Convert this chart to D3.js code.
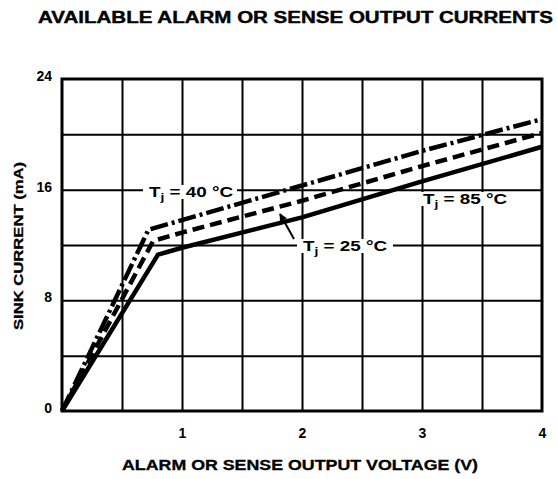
<!DOCTYPE html>
<html>
<head>
<meta charset="utf-8">
<script src="https://cdn.jsdelivr.net/npm/d3@7"></script>
<style>
  body { margin: 0; background: #fff; }
  text { font-family: "Liberation Sans", Arial, sans-serif; font-weight: bold; fill: #000; }
</style>
</head>
<body>
<svg class="chart-svg" width="558" height="479"></svg>
<script>
// voltage (V) and sink current (mA)
const voltage = [0, 0.72, 1, 2, 3, 4];
const current40 = [0, 13.1, 13.8, 16.3, 18.8, 21.1];
const voltage25 = [0, 0.76, 1, 2, 3, 4];
const current25 = [0, 12.3, 12.9, 15.2, 17.7, 20.1];
const voltage85 = [0, 0.8, 1, 2, 3, 4];
const current85 = [0, 11.3, 11.8, 14.0, 16.6, 19.1];

const xTicks = [1, 2, 3, 4];
const yTicks = [0, 8, 16, 24];
const xGrid = [0.5, 1, 1.5, 2, 2.5, 3, 3.5];
const yGrid = [4, 8, 12, 16, 20];

function drawChart() {
    const svg = d3.select(".chart-svg");
    const left = 62, right = 542, top = 79, bottom = 411;

    const x = d3.scaleLinear().domain([0, 4]).range([left, right]);
    const y = d3.scaleLinear().domain([0, 24]).range([bottom, top]);

    // title
    svg.append("text")
        .attr("x", 38).attr("y", 23)
        .attr("font-size", 16)
        .attr("stroke", "#000").attr("stroke-width", 0.4)
        .attr("textLength", 515).attr("lengthAdjust", "spacingAndGlyphs")
        .text("AVAILABLE ALARM OR SENSE OUTPUT CURRENTS");

    // grid
    svg.append("g")
        .attr("transform", `translate(0,${bottom})`)
        .call(d3.axisBottom(x).tickValues(xGrid).tickSize(-(bottom - top)).tickFormat(""))
        .call(g => g.select(".domain").remove())
        .selectAll("line").attr("stroke", "#000").attr("stroke-width", 2);

    svg.append("g")
        .attr("transform", `translate(${left},0)`)
        .call(d3.axisLeft(y).tickValues(yGrid).tickSize(-(right - left)).tickFormat(""))
        .call(g => g.select(".domain").remove())
        .selectAll("line").attr("stroke", "#000").attr("stroke-width", 2);

    // frame
    svg.append("rect")
        .attr("x", left).attr("y", top)
        .attr("width", right - left).attr("height", bottom - top)
        .attr("fill", "none").attr("stroke", "#000").attr("stroke-width", 3);

    // tick labels
    const xAxis = svg.append("g")
        .attr("transform", `translate(0,${bottom})`)
        .call(d3.axisBottom(x).tickValues(xTicks).tickFormat(d3.format("d")).tickSize(0).tickPadding(17));
    xAxis.select(".domain").remove();
    xAxis.selectAll("text").attr("font-size", 14).attr("font-family", null);

    const yAxis = svg.append("g")
        .attr("transform", `translate(${left},0)`)
        .call(d3.axisLeft(y).tickValues(yTicks).tickSize(0).tickPadding(10));
    yAxis.select(".domain").remove();
    yAxis.selectAll("text").attr("font-size", 14).attr("font-family", null).attr("dy", "0.1em");

    // axis titles
    svg.append("text")
        .attr("x", 122).attr("y", 470)
        .attr("font-size", 14)
        .attr("stroke", "#000").attr("stroke-width", 0.3)
        .attr("textLength", 356).attr("lengthAdjust", "spacingAndGlyphs")
        .text("ALARM OR SENSE OUTPUT VOLTAGE (V)");

    svg.append("text")
        .attr("transform", "translate(23,330) rotate(-90)")
        .attr("font-size", 13)
        .attr("stroke", "#000").attr("stroke-width", 0.3)
        .attr("textLength", 168).attr("lengthAdjust", "spacingAndGlyphs")
        .text("SINK CURRENT (mA)");

    // curves
    const line = d3.line().x(d => x(d[0])).y(d => y(d[1]));
    const curves = [
        { v: voltage85, c: current85, dash: null },
        { v: voltage25, c: current25, dash: "12,6" },
        { v: voltage, c: current40, dash: "18,4,3,4" }
    ];
    svg.append("g").selectAll("path")
        .data(curves)
        .enter()
        .append("path")
        .attr("d", d => line(d.v.map((v, i) => [v, d.c[i]])))
        .attr("fill", "none")
        .attr("stroke", "#000")
        .attr("stroke-width", 4.5)
        .attr("stroke-linejoin", "round")
        .attr("stroke-dasharray", d => d.dash);

    // labels on white patches
    const labels = [
        { t: "40", x: 143, y: 192, w: 94 },
        { t: "25", x: 297, y: 246, w: 96 },
        { t: "85", x: 417, y: 199, w: 93 }
    ];
    const lab = svg.append("g").selectAll("g")
        .data(labels)
        .enter()
        .append("g");
    lab.append("rect")
        .attr("x", d => d.x).attr("y", d => d.y - 7)
        .attr("width", d => d.w).attr("height", 14)
        .attr("fill", "#fff");
    const txt = lab.append("text")
        .attr("x", d => d.x + 6).attr("y", d => d.y + 5)
        .attr("font-size", 15)
        .attr("textLength", 84).attr("lengthAdjust", "spacingAndGlyphs");
    txt.append("tspan").text("T");
    txt.append("tspan").attr("font-size", 11).attr("dy", 4).text("j");
    txt.append("tspan").attr("dy", -4).text(d => " = " + d.t + " \u00B0C");

    // arrow to 25 C curve
    svg.append("defs").append("marker")
        .attr("id", "head")
        .attr("viewBox", "0 0 10 10")
        .attr("refX", 9).attr("refY", 5)
        .attr("markerWidth", 4).attr("markerHeight", 4)
        .attr("orient", "auto")
        .append("path").attr("d", "M0,0L10,5L0,10Z").attr("fill", "#000");
    svg.append("line")
        .attr("x1", 294).attr("y1", 239)
        .attr("x2", 280).attr("y2", 214)
        .attr("stroke", "#000").attr("stroke-width", 2)
        .attr("marker-end", "url(#head)");
}

document.addEventListener("DOMContentLoaded", drawChart);
</script>
</body>
</html>
